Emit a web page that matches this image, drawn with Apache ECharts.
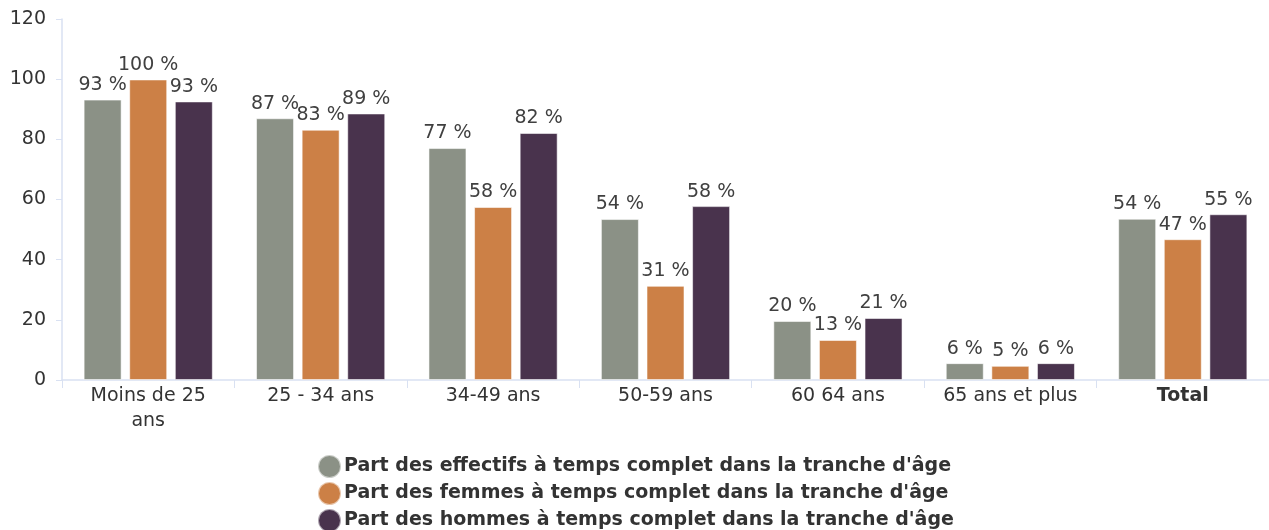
<!DOCTYPE html>
<html lang="fr">
<head>
    <meta charset="UTF-8">
    <title>Temps complet par tranche d'âge</title>
    <script src="https://cdn.jsdelivr.net/npm/echarts@6/dist/echarts.min.js"></script>
    <style>
        * {
            margin: 0;
            padding: 0
        }

        html, body {
            width: 100%;
            height: 100%;
            background: #fff;
        }

        #main {
            width: 1269px;
            height: 530px;
        }
    </style>
</head>
<body>
<div id="main"></div>
<script type="text/javascript">
    // categories (tranches d'âge)
    var categories = ['Moins de 25\nans', '25 - 34 ans', '34-49 ans', '50-59 ans', '60 64 ans', '65 ans et plus', 'Total'];
    var yTicks = [0, 20, 40, 60, 80, 100, 120];

    // séries
    var effectifs = [93.2, 87.0, 77.1, 53.5, 19.6, 5.6, 53.6];
    var femmes = [99.9, 83.2, 57.5, 31.3, 13.3, 4.7, 46.8];
    var hommes = [92.6, 88.6, 82.1, 57.8, 20.6, 5.6, 55.1];

    var seriesNames = [
        "Part des effectifs à temps complet dans la tranche d'âge",
        "Part des femmes à temps complet dans la tranche d'âge",
        "Part des hommes à temps complet dans la tranche d'âge"
    ];
    var colors = ['#8b9186', '#cc8046', '#49334d'];

    var font = 'DejaVu Sans, Liberation Sans, sans-serif';

    function barSerie(name, data, color) {
        return {
            name: name,
            type: 'bar',
            data: data,
            barWidth: 38,
            barGap: '20%',
            itemStyle: {
                color: color,
                borderColor: 'rgba(255,255,255,0.55)',
                borderWidth: 1
            },
            label: {
                show: true,
                position: 'top',
                distance: 5,
                color: '#404040',
                fontSize: 19,
                fontFamily: font,
                formatter: function (p) {
                    return Math.round(p.value) + ' %';
                }
            }
        };
    }

    var chart = echarts.init(document.getElementById('main'));
    chart.setOption({
        animation: false,
        textStyle: {fontFamily: font},
        grid: {
            left: 62,
            right: 0,
            top: 19,
            bottom: 150,
            containLabel: false
        },
        legend: {
            orient: 'vertical',
            left: 312,
            top: 449,
            height: 100,
            itemGap: 2,
            icon: 'circle',
            itemWidth: 23,
            itemHeight: 23,
            textStyle: {
                color: '#333',
                fontSize: 19,
                lineHeight: 20,
                fontWeight: 'bold',
                fontFamily: font,
                padding: [0, 0, 0, -2]
            },
            data: seriesNames
        },
        xAxis: {
            type: 'category',
            data: categories,
            axisLine: {lineStyle: {color: '#d9e1f2', width: 1.5}},
            axisTick: {show: true, length: 8, lineStyle: {color: '#d9e1f2'}},
            axisLabel: {
                color: '#333',
                fontSize: 19,
                fontFamily: font,
                lineHeight: 25,
                margin: 4,
                interval: 0,
                formatter: function (v) {
                    return v === 'Total' ? '{b|' + v + '}' : v;
                },
                rich: {
                    b: {fontWeight: 'bold', fontSize: 19, color: '#333', fontFamily: font}
                }
            }
        },
        yAxis: {
            type: 'value',
            min: yTicks[0],
            max: yTicks[yTicks.length - 1],
            interval: 20,
            axisLine: {show: true, lineStyle: {color: '#d9e1f2', width: 1.5}},
            axisTick: {show: true, length: 6, lineStyle: {color: '#d9e1f2'}},
            splitLine: {show: false},
            axisLabel: {
                color: '#333',
                fontSize: 19,
                fontFamily: font,
                margin: 16
            }
        },
        series: [
            barSerie(seriesNames[0], effectifs, colors[0]),
            barSerie(seriesNames[1], femmes, colors[1]),
            barSerie(seriesNames[2], hommes, colors[2])
        ]
    });
</script>
</body>
</html>
